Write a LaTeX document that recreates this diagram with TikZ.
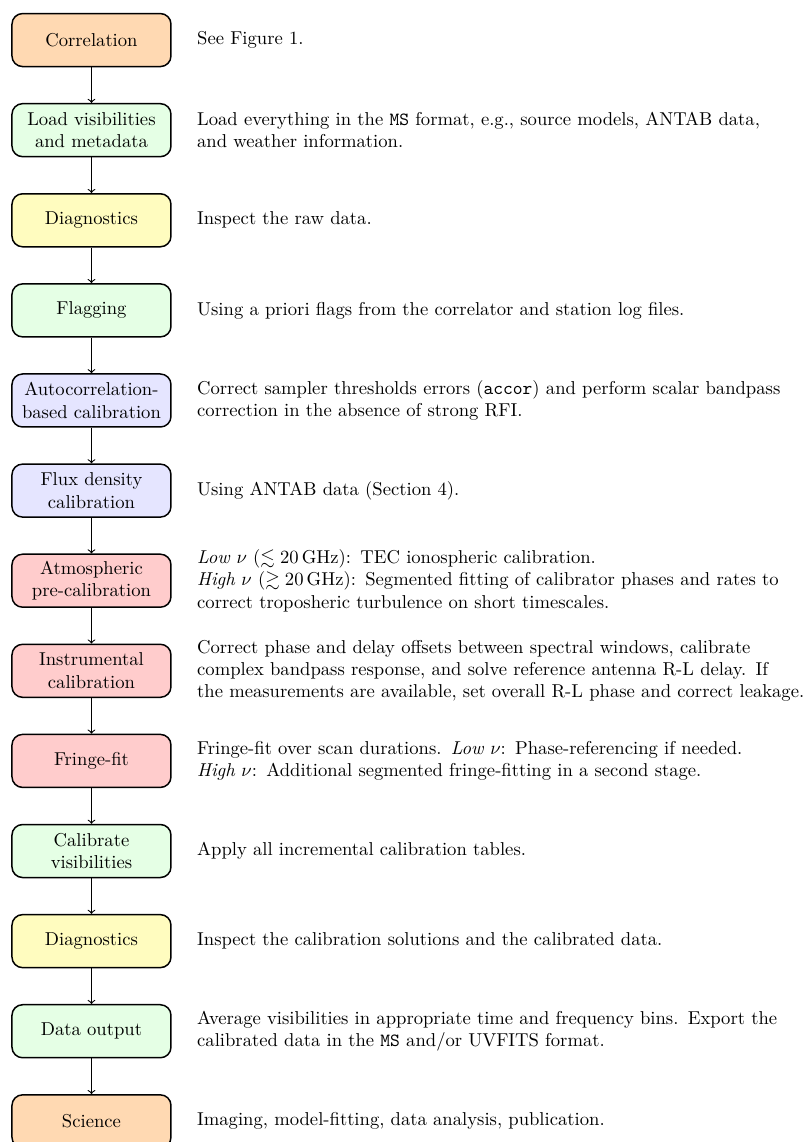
\documentclass[tikz,border=0pt]{standalone}
\usepackage{amsmath}
\usepackage{amssymb}
\usepackage{tikz}
\tikzset{stage/.style = {shape = rectangle, rounded corners = 0.2cm, draw, thick, minimum width = 3cm, minimum height = 1cm, align = center}}
\tikzset{ends/.style = {stage, fill = orange!30}}
\tikzset{handle/.style = {stage, fill = green!10}}
\tikzset{inspect/.style = {stage, fill = yellow!25}}
\tikzset{amp/.style = {stage, fill = blue!10}}
\tikzset{phase/.style = {stage, fill = red!20}}
\tikzset{info/.style = {anchor = west, text width = 11.5cm, align = left}}
\tikzset{edge/.style = {->, semithick}}

\begin{document}
\begin{tikzpicture}
			\useasboundingbox (-1.726, 0.756) rectangle (13.42, -20.79);

			\node[ends] (corr) at (0, 0) {Correlation};
			\node[handle] (load) at (0, -1.7) {Load visibilities\\and metadata};
			\node[inspect] (diagA) at (0, -3.4) {Diagnostics};
			\node[handle] (flag) at (0, -5.1) {Flagging};
			\node[amp] (acor) at (0, -6.8) {Autocorrelation-\\based calibration};
			\node[amp] (flux) at (0, -8.5) {Flux density\\calibration};
			\node[phase] (atmo) at (0, -10.2) {Atmospheric\\pre-calibration};
			\node[phase] (inst) at (0, -11.9) {Instrumental\\calibration};
			\node[phase] (ffit) at (0, -13.6) {Fringe-fit};
			\node[handle] (apply) at (0, -15.3) {Calibrate\\visibilities};
			\node[inspect] (diagB) at (0, -17.0) {Diagnostics};
			\node[handle] (out) at (0, -18.7) {Data output};
			\node[ends] (sci) at (0, -20.4) {Science};

			\node[info] (corrtxt) at (1.87, 0) {See Figure 1.};
			\node[info] (loadtxt) at (1.87, -1.7) {Load everything in the \texttt{MS} format, e.g., source models, ANTAB data,\\and weather information.};
			\node[info] (diagAtxt) at (1.87, -3.4) {Inspect the raw data.};
			\node[info] (flagtxt) at (1.87, -5.1) {Using a priori flags from the correlator and station log files.};
			\node[info] (acortxt) at (1.87, -6.8) {Correct sampler thresholds errors (\texttt{accor}) and perform scalar bandpass\\correction in the absence of strong RFI.};
			\node[info] (fluxtxt) at (1.87, -8.5) {Using ANTAB data (Section 4).};
			\node[info] (atmotxt) at (1.87, -10.2) {\textit{Low} $\nu$ ($\lesssim 20\,$GHz): TEC ionospheric calibration.\\\textit{High} $\nu$ ($\gtrsim 20\,$GHz): Segmented fitting of calibrator phases and rates to\\correct troposheric turbulence on short timescales.};
			\node[info] (insttxt) at (1.87, -11.9) {Correct phase and delay offsets between spectral windows, calibrate\\complex bandpass response, and solve reference antenna R-L delay. If\\the measurements are available, set overall R-L phase and correct leakage.};
			\node[info] (ffittxt) at (1.87, -13.6) {Fringe-fit over scan durations. \textit{Low} $\nu$: Phase-referencing if needed.\\\textit{High} $\nu$: Additional segmented fringe-fitting in a second stage.};
			\node[info] (applytxt) at (1.87, -15.3) {Apply all incremental calibration tables.};
			\node[info] (diagBtxt) at (1.87, -17.0) {Inspect the calibration solutions and the calibrated data.};
			\node[info] (outtxt) at (1.87, -18.7) {Average visibilities in appropriate time and frequency bins. Export the\\calibrated data in the \texttt{MS} and/or UVFITS format.};
			\node[info] (scitxt) at (1.87, -20.4) {Imaging, model-fitting, data analysis, publication.};

			\draw[edge] (corr) -- (load);
			\draw[edge] (load) -- (diagA);
			\draw[edge] (diagA) -- (flag);
			\draw[edge] (flag) -- (acor);
			\draw[edge] (acor) -- (flux);
			\draw[edge] (flux) -- (atmo);
			\draw[edge] (atmo) -- (inst);
			\draw[edge] (inst) -- (ffit);
			\draw[edge] (ffit) -- (apply);
			\draw[edge] (apply) -- (diagB);
			\draw[edge] (diagB) -- (out);
			\draw[edge] (out) -- (sci);
		\end{tikzpicture}
\end{document}
